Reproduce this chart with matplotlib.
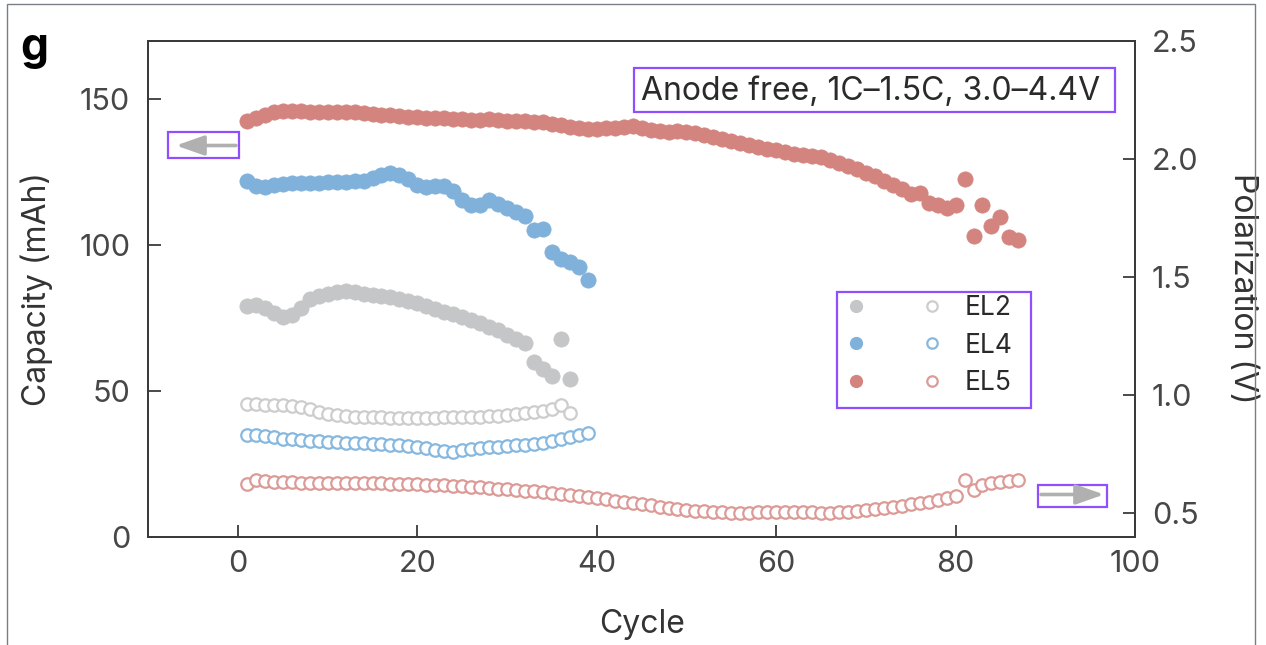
import matplotlib.pyplot as plt
import numpy as np
from matplotlib.lines import Line2D
from matplotlib.patches import Rectangle, FancyArrowPatch
from matplotlib.legend_handler import HandlerTuple

plt.rcParams['font.family'] = ['Inter', 'DejaVu Sans']

# discharge capacity (mAh) per cycle
cap_el2 = [79.0, 79.5, 78.5, 76.5, 75.2, 76.0, 78.5, 81.5, 82.5, 83.2,
           83.8, 84.3, 84.0, 83.3, 82.8, 82.4, 82.0, 81.5, 80.8, 80.0,
           79.0, 78.0, 77.0, 76.2, 75.3, 74.3, 73.3, 72.0, 70.8, 69.2,
           67.6, 66.5, 59.7, 57.3, 55.0, 67.6, 54.0]
cap_el4 = [122.0, 120.3, 120.0, 120.5, 121.0, 121.2, 121.3, 121.2, 121.3, 121.5,
           121.4, 121.6, 121.8, 122.0, 122.8, 123.8, 124.8, 124.0, 122.5, 120.5,
           119.8, 120.2, 120.2, 118.5, 115.5, 113.5, 113.5, 115.5, 114.0, 112.5,
           111.2, 110.0, 105.0, 105.3, 97.5, 95.0, 94.0, 92.5, 88.0]
cap_el5 = [142.5, 143.5, 144.5, 145.5, 146.0, 146.0, 145.8, 145.6, 145.5, 145.5,
           145.5, 145.6, 145.5, 145.3, 145.0, 144.6, 144.4, 144.2, 144.0, 143.8,
           143.6, 143.5, 143.5, 143.3, 143.0, 142.8, 142.8, 143.0, 142.8, 142.6,
           142.5, 142.4, 142.2, 142.0, 141.6, 141.0, 140.5, 140.0, 139.8, 139.8,
           139.9, 140.2, 140.5, 140.6, 140.2, 139.5, 139.0, 138.8, 139.0, 138.8,
           138.3, 137.6, 137.0, 136.3, 135.6, 135.0, 134.3, 133.6, 133.0, 132.4,
           131.8, 131.3, 130.9, 130.5, 130.0, 129.0, 128.0, 127.0, 126.0, 124.8,
           123.5, 122.0, 120.5, 119.2, 117.5, 117.7, 114.3, 113.7, 112.6, 113.7,
           122.5, 103.1, 113.7, 106.5, 109.7, 102.6, 101.7]

# polarization (V) per cycle
pol_el2 = [0.960, 0.960, 0.958, 0.956, 0.955, 0.953, 0.950, 0.938, 0.928, 0.920,
           0.914, 0.910, 0.908, 0.906, 0.905, 0.905, 0.904, 0.904, 0.904, 0.904,
           0.904, 0.904, 0.905, 0.905, 0.906, 0.906, 0.908, 0.909, 0.911, 0.914,
           0.918, 0.922, 0.926, 0.933, 0.940, 0.956, 0.922]
pol_el4 = [0.828, 0.832, 0.827, 0.820, 0.815, 0.812, 0.809, 0.805, 0.803, 0.801,
           0.799, 0.797, 0.795, 0.794, 0.793, 0.791, 0.789, 0.787, 0.783, 0.779,
           0.773, 0.767, 0.763, 0.759, 0.767, 0.771, 0.775, 0.778, 0.781, 0.784,
           0.786, 0.789, 0.793, 0.798, 0.805, 0.813, 0.823, 0.831, 0.839]
pol_el5 = [0.621, 0.641, 0.636, 0.632, 0.630, 0.629, 0.628, 0.628, 0.627, 0.627,
           0.627, 0.626, 0.626, 0.626, 0.625, 0.625, 0.624, 0.623, 0.622, 0.621,
           0.620, 0.618, 0.617, 0.615, 0.613, 0.611, 0.609, 0.606, 0.603, 0.600,
           0.597, 0.594, 0.591, 0.588, 0.585, 0.581, 0.577, 0.572, 0.567, 0.562,
           0.557, 0.552, 0.547, 0.542, 0.537, 0.532, 0.527, 0.522, 0.517, 0.513,
           0.509, 0.506, 0.503, 0.502, 0.501, 0.501, 0.501, 0.502, 0.503, 0.504,
           0.504, 0.504, 0.503, 0.502, 0.501, 0.501, 0.502, 0.504, 0.507, 0.511,
           0.515, 0.520, 0.525, 0.530, 0.536, 0.542, 0.548, 0.555, 0.562, 0.570,
           0.640, 0.596, 0.617, 0.625, 0.632, 0.635, 0.640]

labels = ['EL2', 'EL4', 'EL5']
condition = 'Anode free, 1C\u20131.5C, 3.0\u20134.4V'

fill_col = ['#c5c6c8', '#7fb1da', '#d4847f']
ring_col = ['#cdcdcd', '#86b8e0', '#dc9b97']
purple = '#8f4fff'
ink = '#474747'

W, H = 1266, 645


def fpx(x, y):
    # pixel position -> figure fraction
    return x / W, 1 - y / H


fig = plt.figure(figsize=(W / 100, H / 100), dpi=100)
ax = fig.add_axes([0.1171, 0.1682, 0.7794, 0.7687])
ax2 = ax.twinx()

caps = [cap_el2, cap_el4, cap_el5]
pols = [pol_el2, pol_el4, pol_el5]
for i in range(3):
    cyc = np.arange(1, len(caps[i]) + 1)
    ax.plot(cyc, caps[i], ls='none', marker='o', ms=11,
            mfc=fill_col[i], mec=fill_col[i], mew=0.5)
    cyc = np.arange(1, len(pols[i]) + 1)
    ax2.plot(cyc, pols[i], ls='none', marker='o', ms=9,
             mfc='white', mec=ring_col[i], mew=1.6)

ax.set_xlim(-10, 100)
ax.set_ylim(0, 170)
ax2.set_ylim(0.4, 2.5)
ax.set_xticks([0, 20, 40, 60, 80, 100])
ax.set_yticks([0, 50, 100, 150])
ax2.set_yticks([0.5, 1.0, 1.5, 2.0, 2.5])
ax2.set_yticklabels(['0.5', '1.0', '1.5', '2.0', '2.5'])

for a in (ax, ax2):
    for s in a.spines.values():
        s.set_color('#3a3a3a')
        s.set_linewidth(1.4)
ax.tick_params(axis='both', direction='in', length=9, width=1.3,
               labelsize=22, labelcolor=ink, color='#3a3a3a',
               top=False, right=False)
ax.tick_params(axis='x', pad=10)
ax.tick_params(axis='y', pad=13)
ax2.tick_params(axis='y', direction='in', length=9, width=1.3,
                labelsize=22, labelcolor=ink, color='#3a3a3a', pad=12)

ax.set_xlabel('Cycle', fontsize=23, color='#333333', va='center')
ax.xaxis.set_label_coords(0.5, -0.178)
ax.set_ylabel('Capacity (mAh)', fontsize=23, color='#333333', va='center')
ax.yaxis.set_label_coords(-0.1128, 0.5)
ax2.set_ylabel('Polarization (V)', fontsize=23, color='#333333',
               rotation=270, va='center')
ax2.yaxis.set_label_coords(1.1094, 0.5)

# legend: filled = capacity, open = polarization
handles = []
for i in range(3):
    h1 = Line2D([], [], ls='none', marker='o', ms=8.5, mfc=fill_col[i], mec=fill_col[i])
    h2 = Line2D([], [], ls='none', marker='o', ms=7.5, mfc='white', mec=ring_col[i], mew=1.6)
    handles.append((h1, h2))
ax2.legend(handles, labels, handler_map={tuple: HandlerTuple(ndivide=None, pad=1.96)},
           handlelength=3.78, handletextpad=0.8, labelspacing=0.44,
           fontsize=19, frameon=False, borderpad=0, borderaxespad=0,
           loc='upper left', bbox_to_anchor=fpx(844, 295),
           bbox_transform=fig.transFigure, labelcolor='#2a2a2a')

# condition label
fig.text(*fpx(641, 91), condition, fontsize=23, color='#2a2a2a', va='center', ha='left')

# highlight boxes
for (x0, y0, x1, y1) in [(634, 68, 1115, 112), (837, 292, 1031, 408),
                         (168, 132, 239, 158), (1038, 485, 1107, 507)]:
    fig.add_artist(Rectangle(fpx(x0, y1), (x1 - x0) / W, (y1 - y0) / H,
                             transform=fig.transFigure, fill=False,
                             ec=purple, lw=1.6))

# axis direction arrows
for tail, tip in [((236, 145.5), (176, 145.5)), ((1041, 494.5), (1104, 494.5))]:
    fig.add_artist(FancyArrowPatch(fpx(*tail), fpx(*tip), transform=fig.transFigure,
                                   arrowstyle='-|>,head_length=0.85,head_width=0.3',
                                   mutation_scale=20, color='#b0b0b0', lw=2.6,
                                   shrinkA=0, shrinkB=0))

# panel letter and outer frame
fig.text(*fpx(20, 60), 'g', fontsize=32, fontweight='bold', color='black', va='baseline')
fig.add_artist(Rectangle((7 / W, -0.01), (1255 - 7) / W, 1.01 - 4 / H,
                         transform=fig.transFigure, fill=False, ec='#7a7e86', lw=1))

fig.savefig('out.png', dpi=100)
